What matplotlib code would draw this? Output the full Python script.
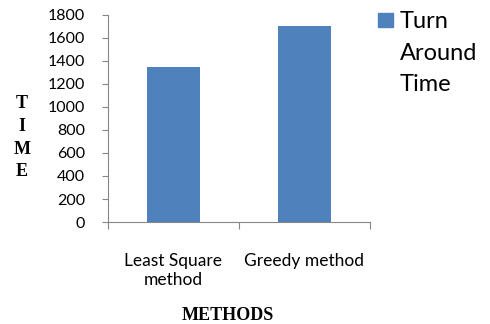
import matplotlib.pyplot as plt
from matplotlib.patches import Rectangle

# 방법별 Turn Around Time
methods = ['Least Square\nmethod', 'Greedy method']
turn_around = [1350, 1700]
series_name = 'Turn\nAround\nTime'
yticks = [0, 200, 400, 600, 800, 1000, 1200, 1400, 1600, 1800]

bar_color = '#4F81BD'
axis_color = '#868686'

fig = plt.figure(figsize=(4.9, 3.24), dpi=100)
ax = fig.add_axes([0.2204, 0.3148, 0.5347, 0.639])

x = list(range(len(methods)))
ax.bar(x, turn_around, width=0.4, color=bar_color)

ax.set_xlim(-0.5, len(methods) - 0.5)
ax.set_ylim(0, 1800)
ax.set_yticks(yticks)
ax.set_yticklabels([str(v) for v in yticks], fontfamily='Lato', fontsize=11.5)
ax.set_xticks(x)
ax.set_xticklabels(methods, fontfamily='Lato', fontsize=12.5, linespacing=1.3)
ax.set_xticks([-0.5, 0.5, 1.5], minor=True)

ax.tick_params(axis='y', length=4, width=0.8, color=axis_color, pad=12.5)
ax.tick_params(axis='x', which='major', length=0, pad=22)
ax.tick_params(axis='x', which='minor', length=5, width=0.8, color=axis_color)

for s in ['top', 'right']:
    ax.spines[s].set_visible(False)
for s in ['left', 'bottom']:
    ax.spines[s].set_color(axis_color)
    ax.spines[s].set_linewidth(0.8)

# 세로로 쌓은 축 제목
fig.text(0.045, 0.575, 'T\nI\nM\nE', ha='center', va='center',
         fontfamily='Liberation Serif', fontweight='bold', fontsize=13,
         linespacing=1.45)
fig.text(0.465, 0.025, 'METHODS', ha='center', va='center',
         fontfamily='Liberation Serif', fontweight='bold', fontsize=13)

# 범례
fig.add_artist(Rectangle((0.772, 0.917), 0.031, 0.044, transform=fig.transFigure,
                         color=bar_color))
fig.text(0.816, 0.965, series_name, ha='left', va='top',
         fontfamily='Lato', fontsize=17, linespacing=1.62)

fig.savefig('out.png', dpi=100)
